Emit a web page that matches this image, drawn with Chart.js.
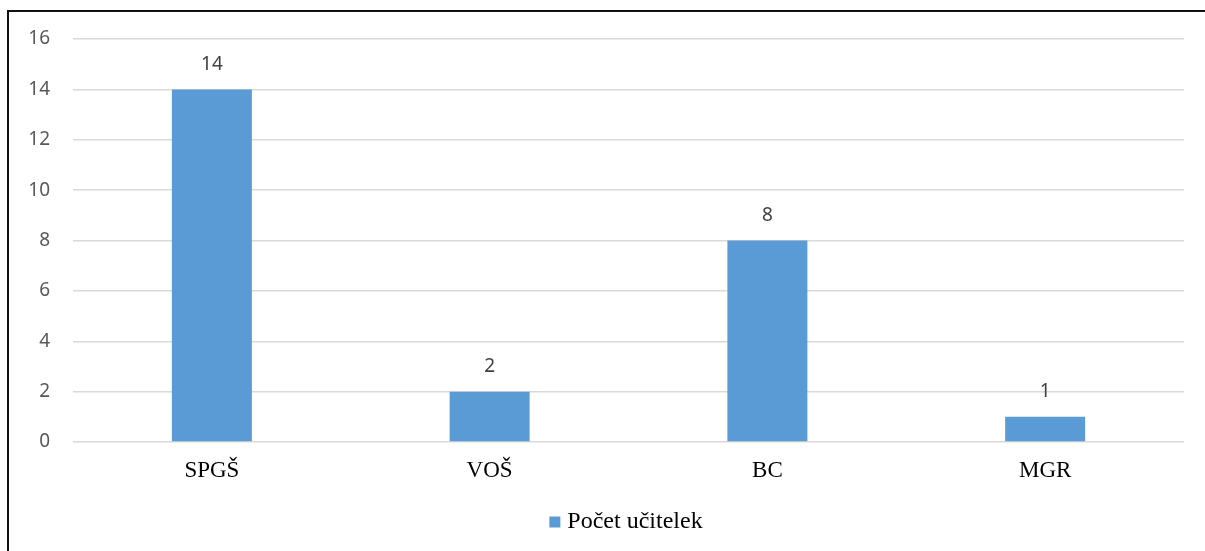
<!DOCTYPE html>
<html>
<head>
<meta charset="utf-8">
<script src="https://cdn.jsdelivr.net/npm/chart.js@4/dist/chart.umd.min.js"></script>
<style>
  html, body { margin: 0; padding: 0; background: #fff; }
  #wrap { position: relative; width: 1205px; height: 551px; overflow: hidden; }
  #frame { position: absolute; left: 7px; top: 10px; width: 1300px; height: 700px;
           border-left: 2px solid #111; border-top: 2px solid #111; box-sizing: border-box; }
  canvas { position: absolute; left: 0; top: 0; }
</style>
</head>
<body>
<div id="wrap">
  <div id="frame"></div>
  <canvas id="c" width="1205" height="551"></canvas>
</div>
<script>
const categories = ["SPGŠ", "VOŠ", "BC", "MGR"];
const seriesName = "Počet učitelek";
const seriesValues = [14, 2, 8, 1];
const yTicks = [0, 2, 4, 6, 8, 10, 12, 14, 16];

const CHART_BOTTOM = 442;
const PAD_BOTTOM = 7;

const valueLabels = {
  id: 'valueLabels',
  afterDatasetsDraw(chart) {
    const ctx = chart.ctx;
    ctx.save();
    ctx.font = '19px "Noto Sans"';
    ctx.fillStyle = '#404040';
    ctx.textAlign = 'center';
    ctx.textBaseline = 'middle';
    chart.getDatasetMeta(0).data.forEach((bar, i) => {
      ctx.fillText(String(chart.data.datasets[0].data[i]), bar.x, bar.y - 25);
    });
    ctx.restore();
  }
};

new Chart(document.getElementById('c'), {
  type: 'bar',
  data: {
    labels: categories,
    datasets: [{
      label: seriesName,
      data: seriesValues,
      backgroundColor: '#5b9bd5',
      borderWidth: 0,
      barPercentage: 0.288,
      categoryPercentage: 1.0
    }]
  },
  options: {
    responsive: false,
    animation: false,
    devicePixelRatio: 1,
    layout: { padding: { left: 0, right: 21, top: 39, bottom: PAD_BOTTOM } },
    plugins: {
      tooltip: { enabled: false },
      legend: {
        position: 'bottom',
        fullSize: false,
        labels: {
          usePointStyle: true,
          pointStyle: 'rect',
          boxWidth: 1,
          boxHeight: 11,
          padding: 10,
          color: '#000',
          font: { family: '"Liberation Serif", "Times New Roman", serif', size: 24 }
        }
      }
    },
    scales: {
      x: {
        grid: { display: false, drawTicks: false },
        border: { display: false },
        ticks: {
          color: '#000',
          padding: 15,
          font: { family: '"Liberation Serif", "Times New Roman", serif', size: 23 }
        },
        afterFit(scale) {
          const lg = scale.chart.legend;
          const lh = (lg && lg.height > 0) ? lg.height : 44;
          scale.height = 551 - PAD_BOTTOM - lh - CHART_BOTTOM;
        }
      },
      y: {
        min: 0,
        max: 16,
        afterBuildTicks(scale) { scale.ticks = yTicks.map(v => ({ value: v })); },
        grid: { color: '#d9d9d9', lineWidth: 1.5, drawTicks: false },
        border: { display: false },
        ticks: {
          color: '#595959',
          padding: 23,
          font: { family: '"Noto Sans", sans-serif', size: 19 }
        },
        afterFit(scale) { scale.width = 73; }
      }
    }
  },
  plugins: [valueLabels]
});
</script>
</body>
</html>
